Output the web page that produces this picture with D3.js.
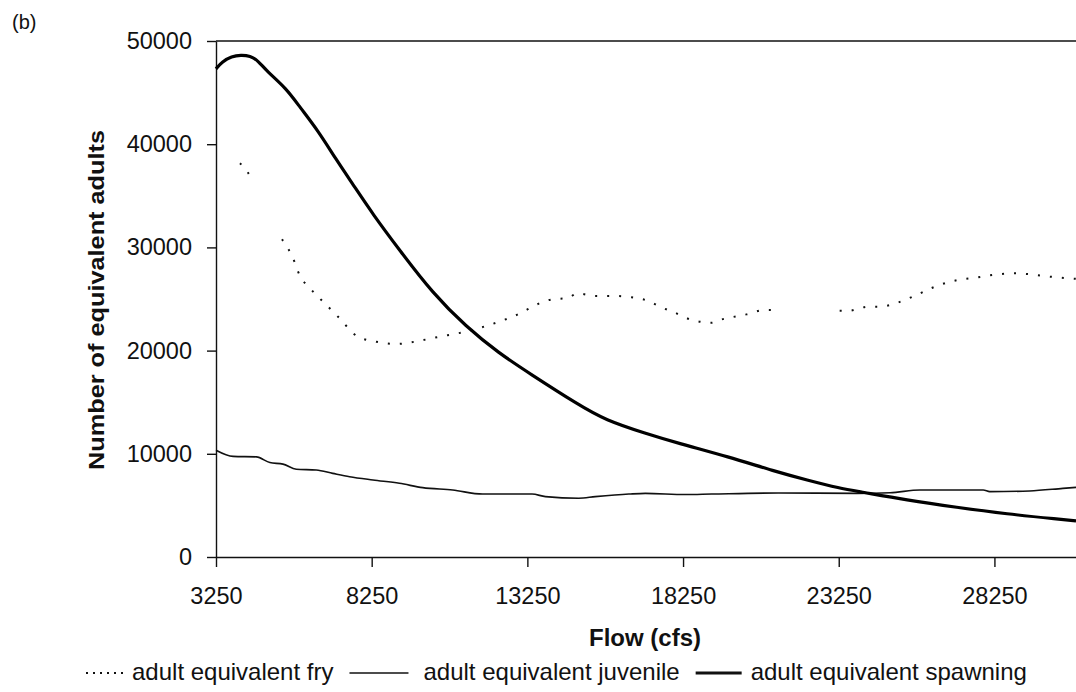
<!DOCTYPE html>
<html><head><meta charset="utf-8">
<script src="https://cdn.jsdelivr.net/npm/d3@7"></script>
<style>body{margin:0;background:#fff}svg{display:block}text{font-family:"Liberation Sans",Arial,sans-serif;fill:#111}</style>
</head><body><svg id="c" width="1076" height="692"></svg>
<script>
const xTicks=[3250,8250,13250,18250,23250,28250];
const yTicks=[0,10000,20000,30000,40000,50000];
const seriesNames=["adult equivalent fry","adult equivalent juvenile","adult equivalent spawning"];

const spawnFlow=[3250,3450,3750,4050,4350,4600,4870,5510,5940,6530,7110,7650,8290,9140,10210,11280,12340,13300,14900,15750,17030,18100,19700,21200,22230,23290,23930,25430,27040,28640,30350,30870];
const spawnVals=[47300,48000,48500,48650,48550,48100,47100,45400,43600,41300,38500,36100,33200,29750,25550,22320,19740,17830,14730,13280,11990,11020,9720,8300,7460,6650,6330,5520,4810,4170,3650,3500];

const juvFlow=[3250,3800,4550,4980,5400,5830,6470,7000,7540,8290,9140,9890,10850,11810,13400,13830,14900,15430,16510,17040,18320,19170,21310,23830,24900,25860,27890,28100,29380,30450,30870];
const juvVals=[10350,9750,9700,9150,9000,8500,8430,8100,7780,7460,7140,6720,6490,6100,6100,5850,5700,5850,6100,6170,6050,6100,6200,6170,6230,6490,6490,6330,6400,6650,6750];

const fryFlow=[4020,4230,4410,4900,5370,5790,5900,6270,6530,6900,7170,7810,8400,9040,9630,10270,11490,11920,12770,13940,14580,14850,15430,16070,16600,17190,17460,17990,18530,19170,19430,20020,20290,20870,21190,22200,23280,23600,23920,24180,24500,25680,26210,26480,27070,27710,27970,28880,30050,30640,30870];
const fryVals=[38150,37440,36600,null,30790,28460,27550,26040,25220,24100,23280,21340,20860,20640,20860,21250,22000,22380,23280,24900,25130,25550,25290,25290,25160,24740,24320,23670,22970,22700,22970,23350,23510,23930,23930,null,23870,23870,24100,24250,24250,25290,26030,26350,26840,27100,27230,27490,27160,27000,26950];

const svg=d3.select("#c");
const x=d3.scaleLinear().domain([3250,30870]).range([216,1076]);
const y=d3.scaleLinear().domain([0,50000]).range([557,41]);

svg.append("line").attr("x1",x(3250)).attr("x2",x(30870)).attr("y1",y(50000)).attr("y2",y(50000))
  .attr("stroke","#111").attr("stroke-width",1.4);

const ya=svg.append("g").attr("transform",`translate(${x(3250)},0)`)
  .call(d3.axisLeft(y).tickValues(yTicks).tickSize(9).tickSizeOuter(0).tickPadding(15).tickFormat(d3.format("d")));
const xa=svg.append("g").attr("transform",`translate(0,${y(0)})`)
  .call(d3.axisBottom(x).tickValues(xTicks).tickSize(10).tickSizeOuter(0).tickPadding(20).tickFormat(d3.format("d")));
[ya,xa].forEach(g=>{
  g.selectAll("path.domain").attr("stroke","#111").attr("stroke-width",1.4);
  g.selectAll(".tick line").attr("stroke","#111").attr("stroke-width",1.4);
  g.selectAll(".tick text").style("font-size","23.5px").attr("fill","#111");
});

const line=d3.line().defined(d=>d[1]!=null).x(d=>x(d[0])).y(d=>y(d[1])).curve(d3.curveMonotoneX);
const zip=(a,b)=>a.map((v,i)=>[v,b[i]]);

svg.append("path").datum(zip(fryFlow,fryVals)).attr("d",line)
  .attr("fill","none").attr("stroke","#111").attr("stroke-width",2).attr("stroke-dasharray","2 10");
svg.append("path").datum(zip(juvFlow,juvVals)).attr("d",line)
  .attr("fill","none").attr("stroke","#111").attr("stroke-width",1.6);
svg.append("path").datum(zip(spawnFlow,spawnVals)).attr("d",line.curve(d3.curveBasis))
  .attr("fill","none").attr("stroke","#000").attr("stroke-width",3.2);

svg.append("text").attr("x",12).attr("y",29).style("font-size","20px").text("(b)");
svg.append("text").attr("transform","translate(104,300) rotate(-90)").attr("text-anchor","middle")
  .style("font-size","22px").style("font-weight","bold")
  .attr("textLength",340).attr("lengthAdjust","spacingAndGlyphs").text("Number of equivalent adults");
svg.append("text").attr("x",645).attr("y",646).attr("text-anchor","middle")
  .style("font-size","24px").style("font-weight","bold").text("Flow (cfs)");

// legend
const ly=680, lm=673;
const lg=svg.append("g");
let cx=86;
const styles=[{w:2,d:"2 5"},{w:1.6,d:null},{w:3.2,d:null}];
const sampleLen=[40,59,46];
const gapAfter=[6,15,9];
seriesNames.forEach((n,i)=>{
  const s=styles[i];
  const l=lg.append("line").attr("x1",cx).attr("x2",cx+sampleLen[i]).attr("y1",lm).attr("y2",lm)
    .attr("stroke","#111").attr("stroke-width",s.w);
  if(s.d) l.attr("stroke-dasharray",s.d);
  cx+=sampleLen[i]+gapAfter[i];
  const t=lg.append("text").attr("x",cx).attr("y",ly).style("font-size","24px").text(n);
  cx+=t.node().getComputedTextLength()+16;
});
</script></body></html>
